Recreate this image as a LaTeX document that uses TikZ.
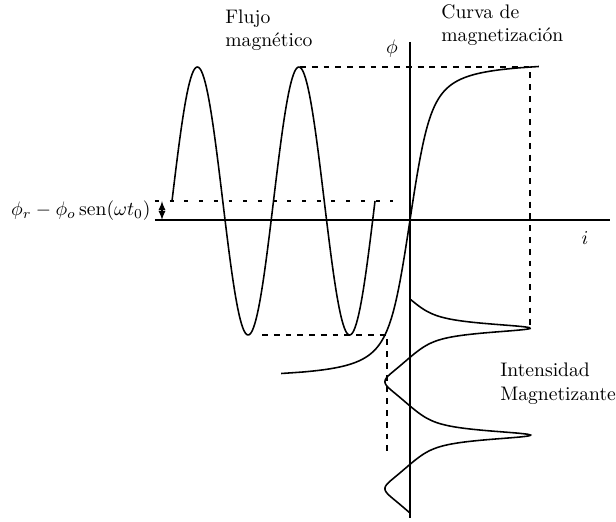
\documentclass[tikz,border=0pt]{standalone}
\usepackage{amsmath}

\newcommand*{\imin}{-255}
\newcommand*{\imax}{200}
\newcommand*{\phimin}{-298}
\newcommand*{\phimax}{178}
\newcommand*{\phioff}{19}
\newcommand*{\phiamp}{134}

\begin{document}
\begin{tikzpicture}
[
	curve/.style={thick,smooth},
	guide/.style={dashed,semithick},
	level/.style={semithick,dash pattern=on 2pt off 5.5pt},
	lbl/.style={inner sep=0pt,align=left},
	x=0.51pt,
	y=0.51pt,
	declare function={magcurve(\p)=12*(\p/155)+7.67*tan(87.09*\p/155);}
]

	\useasboundingbox (-410,-302) rectangle (206,220);

	% axes
	\coordinate (iL) at (\imin,0);
	\coordinate (iR) at (\imax,0);
	\coordinate (phiT) at (0,\phimax);
	\coordinate (phiB) at (0,\phimin);
	\draw[thick] (iL) -- (iR);
	\draw[thick] (phiT) -- (phiB);
	\node[lbl] at (175,-18) (ilabel) {$i$};
	\node[lbl] at (-18,171) (philabel) {$\phi$};

	% offset level
	\coordinate (offL) at (\imin,\phioff);
	\coordinate (offR) at (-17,\phioff);
	\draw[level] (offL) -- (offR);
	\coordinate (arrT) at (-248,\phioff);
	\coordinate (arrB) at (-248,0);
	\draw[semithick,<->,>=latex] (arrT) -- (arrB);
	\node[lbl,anchor=east] at (-259,9) (offlabel) {$\phi_r-\phi_o\operatorname{sen}(\omega t_0)$};

	% flux (360/101.5 = 3.5468 deg per unit)
	\draw[curve] plot[domain=-238:-35,samples=200] (\x,{\phioff+\phiamp*sin(3.5468*(\x+238))});
	\node[lbl,anchor=base west] at (-185,173) (fluxlabel) {Flujo\\magn\'etico};

	% magnetization curve
	\draw[curve] plot[variable=\p,domain=-153.5:153.5,samples=200] ({magcurve(\p)},\p);
	\node[lbl,anchor=base west] at (31,178) (maglabel) {Curva de\\magnetizaci\'on};

	% magnetizing current (360/107 = 3.3645 deg per unit)
	\draw[curve] plot[variable=\t,domain=0:214,samples=240]
	  ({magcurve(\phioff+\phiamp*sin(-8.15+3.3645*\t))},{-79-\t});
	\node[lbl,anchor=base west] at (90,-180) (curlabel) {Intensidad\\Magnetizante};

	% projections
	\coordinate (fluxmax) at (-110,153);
	\coordinate (magmax) at (120,153);
	\coordinate (curmax) at (120,-108);
	\draw[guide] (fluxmax) -- (magmax) -- (curmax);
	\coordinate (fluxmin) at (-148,-115);
	\coordinate (magmin) at (-23,-115);
	\coordinate (curmin) at (-23,-237);
	\draw[guide] (fluxmin) -- (magmin) -- (curmin);

\end{tikzpicture}
\end{document}
